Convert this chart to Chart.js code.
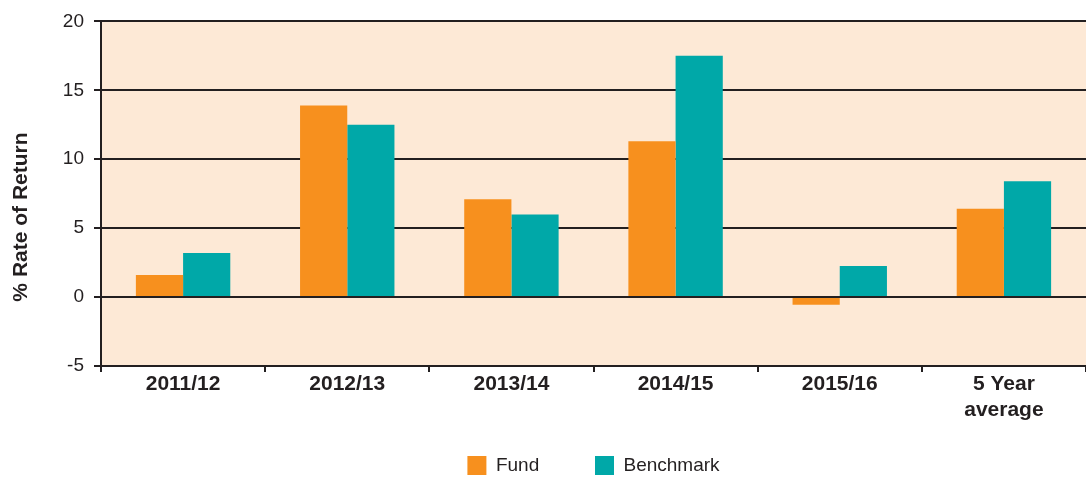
<!DOCTYPE html>
<html>
<head>
<meta charset="utf-8">
<script src="https://cdn.jsdelivr.net/npm/chart.js@4"></script>
<style>
    body { margin: 0; background: #fff; }
    #wrap { width: 1086px; height: 478px; position: relative; }
</style>
</head>
<body>
<div id="wrap"><canvas id="returnChart"></canvas></div>
<script>
const categories = ['2011/12', '2012/13', '2013/14', '2014/15', '2015/16', ['5 Year', 'average']];
const fundValues = [1.6, 13.9, 7.1, 11.3, -0.55, 6.4];
const benchmarkValues = [3.2, 12.5, 6.0, 17.5, 2.25, 8.4];
const yTicks = [-5, 0, 5, 10, 15, 20];

const ink = '#231f20';

// fill the plot area with the pale peach background
const plotBg = {
    id: 'plotBg',
    beforeDraw(chart) {
        const a = chart.chartArea;
        const ctx = chart.ctx;
        ctx.save();
        ctx.fillStyle = '#fde9d6';
        ctx.fillRect(a.left, a.top, a.right - a.left, a.bottom - a.top);
        ctx.restore();
    }
};

const ctx = document.getElementById('returnChart').getContext('2d');
const returnChart = new Chart(ctx, {
    type: 'bar',
    data: {
        labels: categories,
        datasets: [{
            label: 'Fund',
            data: fundValues,
            backgroundColor: '#f7901e',
            categoryPercentage: 0.575,
            barPercentage: 1,
        }, {
            label: 'Benchmark',
            data: benchmarkValues,
            backgroundColor: '#00a8a8',
            categoryPercentage: 0.575,
            barPercentage: 1,
        }],
    },
    options: {
        responsive: true,
        maintainAspectRatio: false,
        animation: false,
        layout: {
            padding: { top: 20, right: 0, bottom: -7, left: 0 },
        },
        plugins: {
            tooltip: { enabled: false },
            legend: {
                position: 'bottom',
                fullSize: false,
                labels: {
                    boxWidth: 19,
                    boxHeight: 19,
                    padding: 3,
                    color: ink,
                    font: { family: 'Liberation Sans', size: 19 },
                    // wide gap between the two entries, like the original
                    generateLabels: (chart) => {
                        const items = Chart.defaults.plugins.legend.labels.generateLabels(chart);
                        items.forEach((item, i) => {
                            if (i < items.length - 1) item.text = item.text + ' '.repeat(10);
                        });
                        return items;
                    },
                },
            },
        },
        scales: {
            x: {
                offset: true,
                grid: {
                    display: true,
                    offset: true,
                    drawOnChartArea: false,
                    drawTicks: true,
                    tickLength: 6,
                    color: ink,
                    lineWidth: 2,
                },
                border: { color: ink, width: 2 },
                ticks: {
                    color: ink,
                    padding: 0,
                    maxRotation: 0,
                    font: { family: 'Liberation Sans', size: 21, weight: 'bold', lineHeight: 1.2 },
                },
                afterFit: (scale) => { scale.height = 87; },
            },
            y: {
                min: -5,
                max: 20,
                afterBuildTicks: (scale) => {
                    scale.ticks = yTicks.map(v => ({ value: v }));
                },
                grid: {
                    color: ink,
                    lineWidth: 2,
                    tickLength: 7,
                },
                border: { color: ink, width: 2 },
                ticks: {
                    color: ink,
                    padding: 10,
                    font: { family: 'Liberation Sans', size: 19 },
                },
                title: {
                    display: true,
                    // trailing spaces push the rotated title a bit lower, as in the original
                    text: '% Rate of Return' + ' '.repeat(8),
                    color: ink,
                    padding: { top: 9, bottom: 8 },
                    font: { family: 'Liberation Sans', size: 21, weight: 'bold' },
                },
                afterFit: (scale) => { scale.width = 101; },
            },
        },
    },
    plugins: [plotBg],
});
</script>
</body>
</html>
